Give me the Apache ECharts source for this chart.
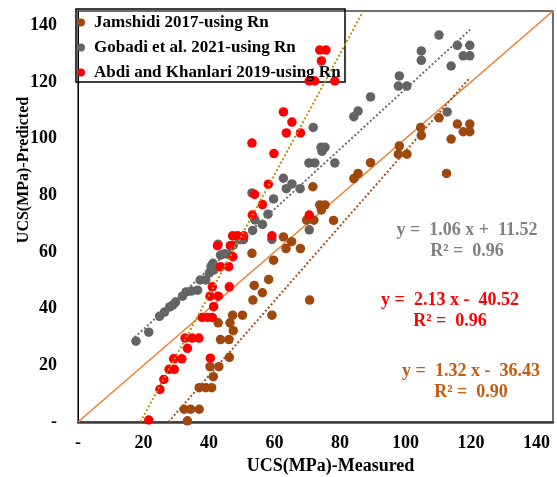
<!DOCTYPE html>
<html>
<head>
<meta charset="utf-8">
<script src="https://cdn.jsdelivr.net/npm/echarts@6/dist/echarts.min.js"></script>
<style>
  html, body { margin: 0; padding: 0; background: #ffffff; }
  #chart { width: 557px; height: 477px; }
</style>
</head>
<body>
<div id="chart"></div>
<script>
// Measured vs predicted UCS (MPa) for three published Rn-based models
const seriesNames = [
  'Jamshidi 2017-using Rn',
  'Gobadi et al. 2021-using Rn',
  'Abdi and Khanlari 2019-using Rn'
];

const jamshidiPoints = [
  [33.4, 0.4], [32.4, 4.5], [34.4, 4.5], [37.0, 4.5], [37.0, 12.1], [39.0, 12.1],
  [40.8, 12.1], [41.3, 16.0], [40.3, 19.5], [43.0, 19.5], [46.2, 22.8], [43.5, 29.1],
  [46.1, 29.1], [47.4, 32.2], [42.8, 35.0], [46.4, 35.0], [47.2, 37.7], [50.2, 37.7],
  [59.2, 37.7], [53.4, 43.0], [56.3, 45.6], [70.7, 43.0], [53.8, 48.2], [58.2, 50.3],
  [53.1, 59.5], [59.7, 57.1], [63.5, 61.2], [67.9, 61.2], [62.7, 65.3], [65.2, 63.6],
  [69.8, 71.2], [72.0, 71.2], [78.0, 71.1], [73.8, 76.6], [75.4, 76.6], [74.3, 74.8],
  [71.7, 83.0], [84.2, 85.9], [85.5, 87.7], [89.3, 91.5], [97.8, 94.5], [100.4, 94.5],
  [98.1, 97.4], [104.8, 101.1], [104.6, 103.9], [110.2, 107.3], [112.5, 87.7], [113.9, 99.8],
  [115.8, 105.1], [119.6, 105.1], [117.6, 102.4], [119.6, 102.4]
];

const gobadiPoints = [
  [17.7, 28.5], [21.6, 31.7], [24.9, 37.3], [26.4, 38.8], [28.0, 40.6], [29.0, 41.3],
  [29.8, 42.3], [31.9, 44.4], [33.0, 45.9], [34.6, 46.2], [36.5, 46.5], [37.3, 50.1],
  [39.0, 50.1], [40.1, 52.6], [40.6, 54.8], [41.5, 53.6], [41.2, 56.0], [43.5, 58.9],
  [44.8, 59.4], [46.1, 59.0], [42.8, 62.7], [47.4, 62.4], [49.4, 64.3], [50.5, 64.3],
  [53.3, 67.6], [54.0, 71.3], [56.3, 69.7], [58.0, 73.3], [59.2, 64.4], [53.1, 80.8],
  [59.7, 78.7], [63.6, 82.3], [67.8, 82.3], [65.3, 84.0], [62.7, 86.0], [70.6, 67.8],
  [70.5, 91.4], [72.3, 91.4], [78.4, 91.4], [74.5, 95.5], [75.4, 96.9], [74.2, 96.9],
  [71.8, 103.9], [84.2, 107.7], [85.5, 109.7], [89.3, 114.7], [97.8, 118.5], [100.4, 118.5],
  [98.1, 122.1], [104.8, 127.6], [104.8, 130.9], [110.2, 136.5], [112.7, 109.4], [113.9, 125.6],
  [115.8, 132.9], [119.6, 132.9], [117.6, 129.2], [119.6, 129.2]
];

const abdiPoints = [
  [21.6, 0.7], [25.0, 11.5], [26.2, 15.0], [27.8, 18.6], [29.4, 18.6], [29.2, 22.3],
  [31.7, 22.3], [33.4, 26.0], [32.7, 29.6], [34.8, 29.6], [36.9, 29.6], [40.4, 22.5],
  [37.9, 36.9], [39.6, 36.9], [41.0, 36.9], [41.4, 40.7], [40.3, 44.4], [42.8, 44.4],
  [41.0, 47.7], [46.2, 47.7], [43.5, 54.8], [46.0, 54.8], [42.6, 62.2], [46.5, 62.2],
  [47.3, 58.3], [47.2, 65.7], [48.7, 65.7], [50.6, 65.7], [59.2, 65.7], [53.2, 73.0],
  [56.3, 76.7], [53.9, 80.3], [58.1, 83.9], [59.8, 94.7], [53.1, 98.4], [63.6, 102.0],
  [67.9, 102.0], [65.3, 105.8], [62.7, 109.4], [70.6, 120.3], [72.3, 120.3], [78.4, 120.3],
  [74.3, 127.4], [73.8, 131.2], [75.7, 131.2], [70.6, 73.0]
];

// Linear fits (same order as seriesNames)
const trendSlopes = [1.32, 1.06, 2.13];
const trendIntercepts = [-36.43, 11.52, -40.52];
const trendR2 = [0.90, 0.96, 0.96];
const trendXStart = [27.6, 17.3, 19.02];
const trendXEnd = [119.7, 119.7, 87.1];

// Axis range shared by both axes
const axisMin = 0;
const axisMax = 145;
const tickStep = 20;
const xTitle = 'UCS(MPa)-Measured';
const yTitle = 'UCS(MPa)-Predicted';

const markerColors = ['#9e480e', '#636363', '#ff0000'];
const trendColors = ['#a4521c', '#6e6e6e', '#b8900a'];
const equationColors = ['#c55a11', '#808080', '#ff0000'];
const FONT = "'Liberation Serif', 'Times New Roman', serif";

function fitLine(i) {
  const xs = [trendXStart[i], trendXEnd[i]];
  return xs.map(x => [x, trendSlopes[i] * x + trendIntercepts[i]]);
}

function equationText(i) {
  const b = trendIntercepts[i];
  const sign = b < 0 ? '-' : '+';
  return 'y =  ' + trendSlopes[i].toFixed(2) + ' x ' + sign + '  ' + Math.abs(b).toFixed(2) +
    '\nR² =  ' + trendR2[i].toFixed(2);
}

const pointSets = [jamshidiPoints, gobadiPoints, abdiPoints];
// label centres in pixels for each fit equation
const equationPos = [[471, 382], [467, 241], [450, 311]];

const chart = echarts.init(document.getElementById('chart'), null, { renderer: 'canvas' });

const series = [];
series.push({
  name: '1:1',
  type: 'line',
  data: [[axisMin, axisMin], [axisMax, axisMax]],
  showSymbol: false,
  symbol: 'none',
  silent: true,
  lineStyle: { color: '#ed7d31', width: 1.5 },
  z: 1
});
pointSets.forEach((pts, i) => {
  series.push({
    name: seriesNames[i],
    type: 'scatter',
    data: pts,
    symbol: 'circle',
    symbolSize: 9.5,
    itemStyle: { color: markerColors[i], opacity: 1 },
    z: 2 + i
  });
});
pointSets.forEach((pts, i) => {
  series.push({
    name: seriesNames[i] + ' fit',
    type: 'line',
    data: fitLine(i),
    showSymbol: false,
    symbol: 'none',
    silent: true,
    clip: true,
    lineStyle: { color: trendColors[i], width: 2, type: [2, 2.2], cap: 'butt' },
    z: 6
  });
});

const axisLabelStyle = {
  fontFamily: FONT,
  fontWeight: 'bold',
  fontSize: 18,
  color: '#000',
  showMaxLabel: false,
  formatter: v => (v === 0 ? '-' : String(v))
};

const option = {
  backgroundColor: '#ffffff',
  animation: false,
  grid: {
    left: 78, right: 4, top: 11, bottom: 55,
    outerBoundsMode: 'none',
    containLabel: false,
    show: true,
    borderColor: '#404040',
    borderWidth: 1.5,
    backgroundColor: 'transparent'
  },
  legend: {
    data: seriesNames,
    orient: 'vertical',
    left: 77,
    top: 14,
    padding: 0,
    itemGap: 8,
    itemWidth: 16,
    itemHeight: 8,
    icon: 'circle',
    textStyle: {
      fontFamily: FONT,
      fontWeight: 'bold',
      fontSize: 17,
      lineHeight: 16,
      color: '#000'
    },
    z: 10
  },
  xAxis: {
    type: 'value',
    min: axisMin,
    max: axisMax,
    interval: tickStep,
    name: xTitle,
    nameLocation: 'middle',
    nameGap: 35,
    nameMoveOverlap: false,
    nameTextStyle: {
      fontFamily: FONT, fontWeight: 'bold', fontSize: 18, color: '#000',
      padding: [0, 0, 0, 30]
    },
    axisLine: { show: true, onZero: false, lineStyle: { color: '#404040', width: 2.5 } },
    axisTick: { show: false },
    splitLine: { show: false },
    axisLabel: Object.assign({ margin: 12 }, axisLabelStyle)
  },
  yAxis: {
    type: 'value',
    min: axisMin,
    max: axisMax,
    interval: tickStep,
    axisLine: { show: true, onZero: false, lineStyle: { color: '#000', width: 1 } },
    axisTick: { show: false },
    splitLine: { show: false },
    axisLabel: Object.assign({ margin: 21 }, axisLabelStyle)
  },
  graphic: [
    {
      type: 'rect',
      shape: { x: 76, y: 9, width: 269, height: 73 },
      style: { fill: 'transparent', stroke: '#000', lineWidth: 1.5 },
      silent: true,
      z: 1
    },
    {
      // vertical axis title
      type: 'text',
      x: 24,
      y: 170,
      rotation: Math.PI / 2,
      silent: true,
      z: 20,
      style: {
        text: yTitle,
        fill: '#000',
        font: 'bold 16px ' + FONT,
        align: 'center',
        verticalAlign: 'middle'
      }
    }
  ].concat(equationPos.map((p, i) => ({
    type: 'text',
    x: p[0],
    y: p[1],
    silent: true,
    z: 20,
    style: {
      text: equationText(i),
      fill: equationColors[i],
      font: 'bold 18px ' + FONT,
      align: 'center',
      verticalAlign: 'middle',
      lineHeight: 20.5
    }
  }))),
  series: series
};

chart.setOption(option);
</script>
</body>
</html>
